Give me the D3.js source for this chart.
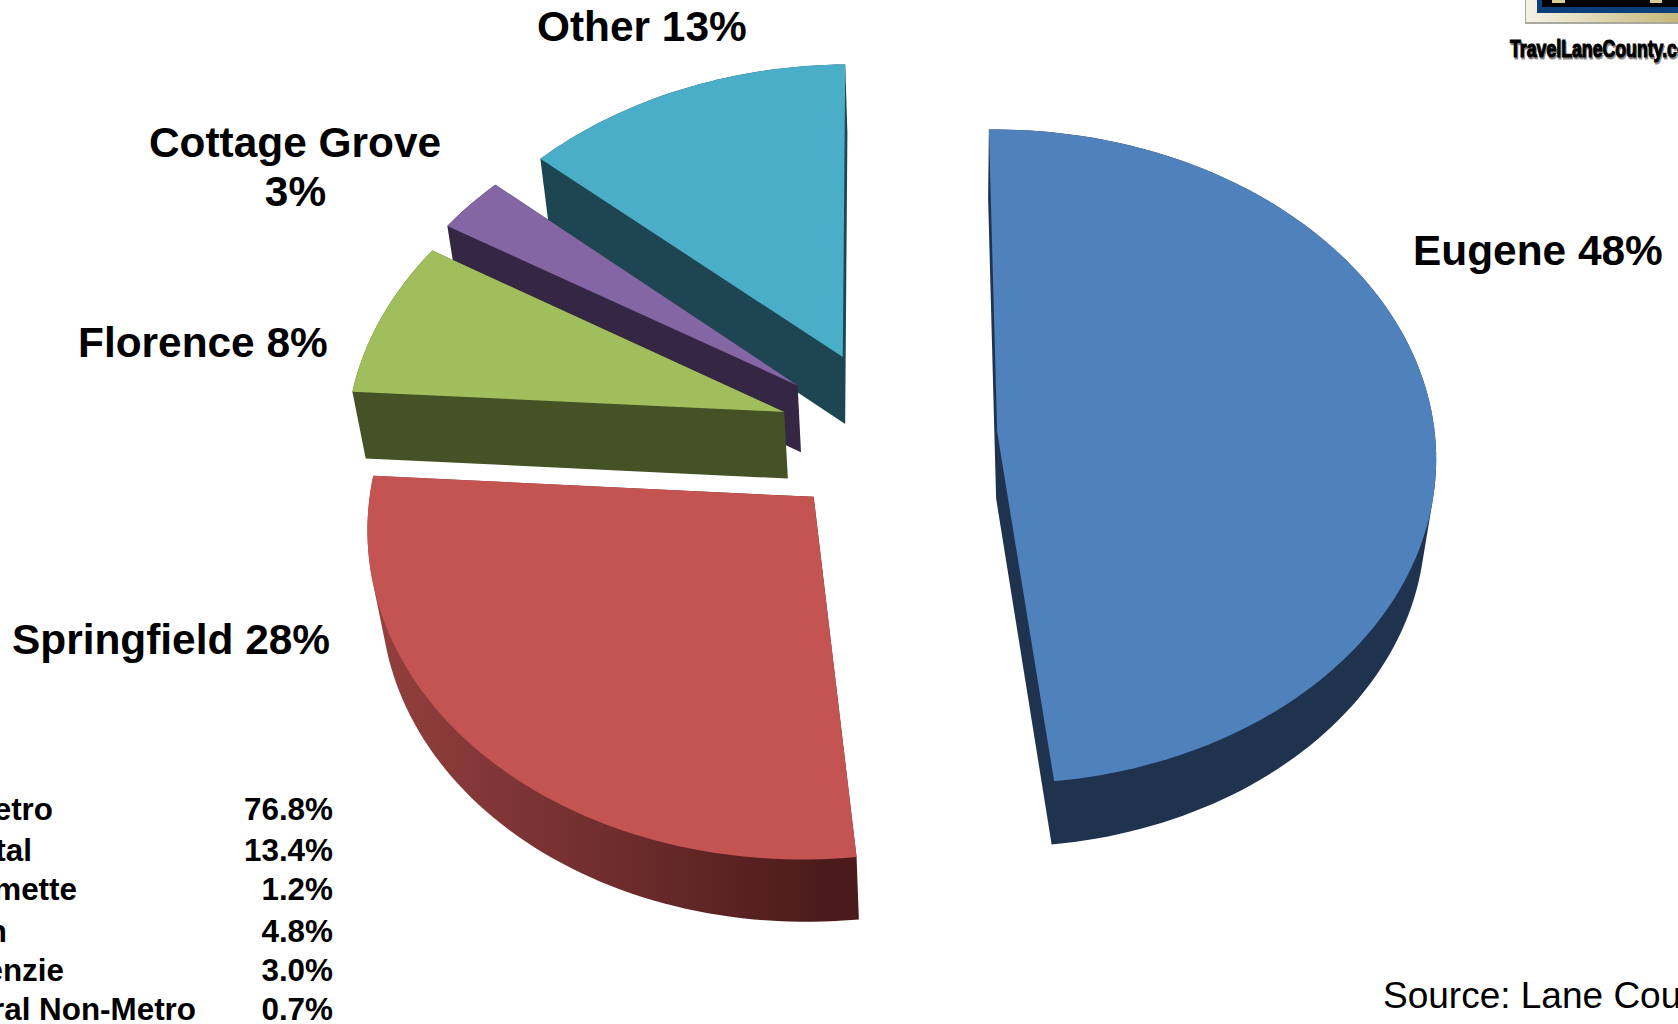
<!DOCTYPE html>
<html>
<head>
<meta charset="utf-8">
<script src="https://cdn.jsdelivr.net/npm/d3@7"></script>
<style>
  html, body { margin: 0; padding: 0; background: #fff; overflow: hidden; }
  text { font-family: "Liberation Sans", Arial, sans-serif; fill: #000; }
</style>
</head>
<body>
<div id="chart"></div>
<script>
// printed labels
var cities = ["Eugene", "Springfield", "Florence", "Cottage Grove", "Other"];
var printedShares = [48, 28, 8, 3, 13];

// slice sizes as measured on the picture, they differ a bit from the printed numbers
var shares = [48.4, 27.8, 7.7, 2.8, 13.3];

// table at bottom left, names run off the page in the original
var regions = ["Metro", "Coastal", "Willamette", "n", "McKenzie", "Rural Non-Metro"];
var regionShares = ["76.8%", "13.4%", "1.2%", "4.8%", "3.0%", "0.7%"];

var width = 1678, height = 1024;

var topColors = ["#4f81bd", "#c45451", "#a0bf5c", "#8366a3", "#4baec8"];
var sideColors = ["#1f334f", "url(#redSide)", "#445225", "#352643", "#1e4552"];
var explode = [0.243, 0.25, 0.258, 0.27, 0.275];
var drawOrder = [4, 3, 2, 1, 0];
var startDeg = -0.7;

// camera for the tilted pie
var cx = 891, cy = 437, vanishX = 950;
var tilt = 0.075, sink = 0.023;
var xScale = d3.scaleLinear().domain([-1, 1]).range([-438, 438]);
var yScale = d3.scaleLinear().domain([-1, 1]).range([326, -326]);
var zScale = d3.scaleLinear().domain([0, 1]).range([0, 68]);

function project(u, v, z) {
  var w = 1 + tilt * v + sink * z;
  return [
    vanishX + (cx - vanishX + xScale(u)) / w,
    cy + (yScale(v) + zScale(z)) / w
  ];
}

var svg = d3.select("#chart")
  .append("svg")
    .attr("width", width)
    .attr("height", height)
    .style("display", "block");

var defs = svg.append("defs");
var redSide = defs.append("linearGradient")
    .attr("id", "redSide")
    .attr("gradientUnits", "userSpaceOnUse")
    .attr("x1", 370).attr("y1", 0)
    .attr("x2", 830).attr("y2", 0);
redSide.append("stop").attr("offset", "0%").attr("stop-color", "#94403f");
redSide.append("stop").attr("offset", "55%").attr("stop-color", "#6d2c2c");
redSide.append("stop").attr("offset", "100%").attr("stop-color", "#4b1a1a");

var pie = d3.pie().sort(null)
    .startAngle(startDeg * Math.PI / 180)
    .endAngle((startDeg + 360) * Math.PI / 180)
    .value(function (d) { return d; });
var arcs = pie(shares);
var line = d3.line().curve(d3.curveLinearClosed);

// outline of one slice in the pie plane, moved out along its middle angle
function outline(arc, i) {
  var mid = (arc.startAngle + arc.endAngle) / 2;
  var ox = explode[i] * Math.sin(mid), oy = explode[i] * Math.cos(mid);
  var steps = Math.ceil((arc.endAngle - arc.startAngle) * 40);
  var pts = [[ox, oy]];
  d3.range(steps + 1).forEach(function (s) {
    var a = arc.startAngle + (arc.endAngle - arc.startAngle) * s / steps;
    pts.push([ox + Math.sin(a), oy + Math.cos(a)]);
  });
  return pts;
}

var slices = svg.append("g");
drawOrder.forEach(function (i) {
  var pts = outline(arcs[i], i);
  var topFace = pts.map(function (p) { return project(p[0], p[1], 0); });
  var lowFace = pts.map(function (p) { return project(p[0], p[1], 1); });
  // side is the hull of both faces, top goes over it
  slices.append("path")
    .attr("d", line(d3.polygonHull(topFace.concat(lowFace))))
    .attr("fill", sideColors[i]);
  slices.append("path")
    .attr("d", line(topFace))
    .attr("fill", topColors[i]);
});

// slice labels
var bigFont = 42.4;
function label(txt, x, y, anchor) {
  svg.append("text")
    .attr("x", x).attr("y", y)
    .attr("text-anchor", anchor || "start")
    .style("font-size", bigFont + "px")
    .style("font-weight", "bold")
    .text(txt);
}
label(cities[4] + " " + printedShares[4] + "%", 537, 41);
label(cities[0] + " " + printedShares[0] + "%", 1413, 265);
label(cities[3], 295, 157, "middle");
label(printedShares[3] + "%", 295.5, 206, "middle");
label(cities[2] + " " + printedShares[2] + "%", 78, 357);
label(cities[1] + " " + printedShares[1] + "%", 12, 654);

// table
var rowY = [820, 861, 900, 942, 981, 1020];
var nameEnd = [53, 32, 77, 7, 64, 196];
regions.forEach(function (name, i) {
  svg.append("text")
    .attr("x", nameEnd[i]).attr("y", rowY[i])
    .attr("text-anchor", "end")
    .style("font-size", "31.4px")
    .style("font-weight", "bold")
    .text(name);
  svg.append("text")
    .attr("x", 333).attr("y", rowY[i])
    .attr("text-anchor", "end")
    .style("font-size", "31.4px")
    .style("font-weight", "bold")
    .text(regionShares[i]);
});

svg.append("text")
  .attr("x", 1383).attr("y", 1008)
  .style("font-size", "37px")
  .text("Source: Lane County");

// logo corner
var strip = defs.append("linearGradient").attr("id", "strip");
strip.append("stop").attr("offset", "0%").attr("stop-color", "#f6f3e6");
strip.append("stop").attr("offset", "100%").attr("stop-color", "#c6b778");
var logo = svg.append("g");
logo.append("rect").attr("x", 1525).attr("y", 0).attr("width", 153).attr("height", 24).attr("fill", "#a9a9a0");
logo.append("rect").attr("x", 1526).attr("y", 0).attr("width", 152).attr("height", 22).attr("fill", "url(#strip)");
logo.append("rect").attr("x", 1537).attr("y", 0).attr("width", 141).attr("height", 13).attr("fill", "#0a3f7c");
logo.append("rect").attr("x", 1542).attr("y", 0).attr("width", 136).attr("height", 7).attr("fill", "#000");
logo.append("rect").attr("x", 1552).attr("y", 0).attr("width", 13).attr("height", 3).attr("fill", "#d8cd9a");
logo.append("rect").attr("x", 1650).attr("y", 0).attr("width", 12).attr("height", 3).attr("fill", "#d8cd9a");

[["#8a8a8a", 1], ["#000", 0]].forEach(function (s) {
  logo.append("text")
    .attr("transform", "translate(" + (1510 + s[1]) + "," + (57 + s[1] * 2) + ") scale(0.77,1)")
    .style("font-size", "23px")
    .style("font-weight", "bold")
    .style("fill", s[0])
    .style("stroke", s[0])
    .style("stroke-width", "1.1px")
    .text("TravelLaneCounty.com");
});
</script>
</body>
</html>
